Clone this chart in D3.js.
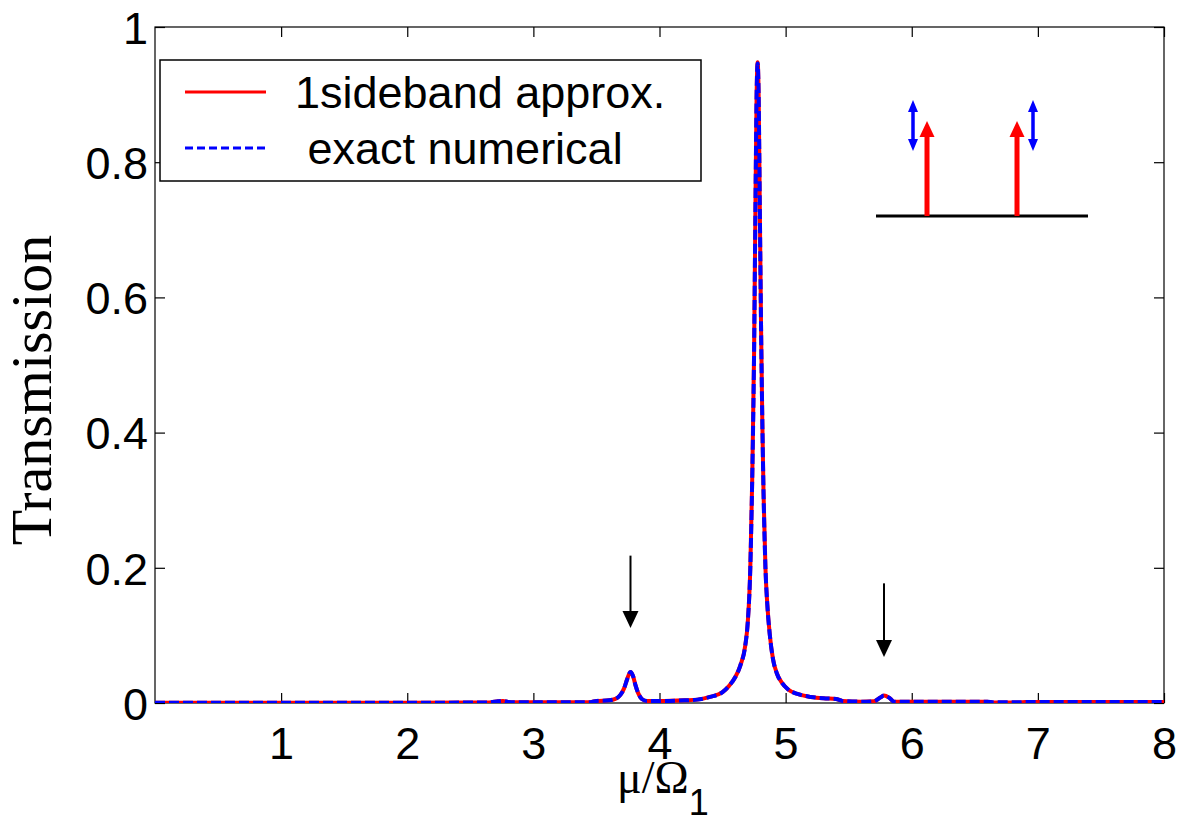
<!DOCTYPE html>
<html>
<head>
<meta charset="utf-8">
<script src="https://d3js.org/d3.v7.min.js"></script>
<style>
body { margin: 0; background: #fff; }
</style>
</head>
<body>
<svg width="1187" height="817"></svg>
<script>
// detuning mu/Omega_1 and transmission
const muValues = [0, 0.5, 1, 1.5, 2, 2.5, 2.65, 2.72, 2.76, 2.8, 2.85, 3.0, 3.3, 3.45, 3.5, 3.6,
  3.65, 3.69, 3.72, 3.745, 3.77, 3.79, 3.81, 3.83, 3.86, 3.9, 4.0, 4.2, 4.3, 4.4, 4.5, 4.55,
  4.6, 4.64, 4.68, 4.7, 4.72, 4.735, 4.75, 4.76, 4.77, 4.778, 4.786, 4.795, 4.805, 4.815,
  4.825, 4.84, 4.855, 4.875, 4.9, 4.93, 4.97, 5.02, 5.1, 5.2, 5.3, 5.4, 5.45, 5.6, 5.7, 5.75, 5.78,
  5.82, 5.86, 6.0, 6.3, 6.6, 6.65, 6.85, 6.9, 7.5, 8];
const sideband = [0.0005, 0.0005, 0.0005, 0.0005, 0.0005, 0.0006, 0.0008, 0.0025, 0.003, 0.0015, 0.001, 0.001, 0.001, 0.0012, 0.003, 0.004,
  0.006, 0.012, 0.022, 0.036, 0.046, 0.040, 0.026, 0.015, 0.006, 0.003, 0.003, 0.004, 0.005, 0.009, 0.016, 0.025,
  0.038, 0.055, 0.085, 0.12, 0.2, 0.33, 0.52, 0.72, 0.9, 0.948, 0.9, 0.74, 0.56, 0.42,
  0.31, 0.2, 0.145, 0.1, 0.065, 0.044, 0.03, 0.02, 0.013, 0.009, 0.007, 0.006, 0.003, 0.002, 0.0025, 0.008, 0.011,
  0.008, 0.002, 0.002, 0.002, 0.002, 0.0006, 0.0006, 0.0015, 0.0015, 0.0015];
const exact = [0.0005, 0.0005, 0.0005, 0.0005, 0.0005, 0.0006, 0.0008, 0.0025, 0.003, 0.0015, 0.001, 0.001, 0.001, 0.0012, 0.003, 0.004,
  0.006, 0.012, 0.022, 0.036, 0.046, 0.040, 0.026, 0.015, 0.006, 0.003, 0.003, 0.004, 0.005, 0.009, 0.016, 0.025,
  0.038, 0.055, 0.085, 0.12, 0.2, 0.33, 0.52, 0.72, 0.9, 0.946, 0.9, 0.74, 0.56, 0.42,
  0.31, 0.2, 0.145, 0.1, 0.065, 0.044, 0.03, 0.02, 0.013, 0.009, 0.007, 0.006, 0.003, 0.002, 0.0025, 0.008, 0.011,
  0.008, 0.002, 0.002, 0.002, 0.002, 0.0010, 0.0010, 0.0015, 0.0015, 0.0015];
const xTicks = [1, 2, 3, 4, 5, 6, 7, 8];
const yTicks = [0, 0.2, 0.4, 0.6, 0.8, 1];
const legendLabels = ["1sideband approx.", " exact numerical"];
const arrowMarks = [{mu: 3.77, from: 0.218, to: 0.111}, {mu: 5.78, from: 0.177, to: 0.068}];

const svg = d3.select("svg");
const padL = 155, padR = 1164, padT = 27, padB = 703;
const x = d3.scaleLinear().domain([0, 8]).range([padL, padR]);
const y = d3.scaleLinear().domain([0, 1]).range([padB, padT]);
const sans = "'Liberation Sans', Arial, sans-serif";
const serif = "'Liberation Serif', 'Times New Roman', serif";

svg.append("defs").append("clipPath").attr("id", "plot")
  .append("rect").attr("x", padL).attr("y", padT).attr("width", padR - padL).attr("height", padB - padT);

// frame
svg.append("rect").attr("x", padL).attr("y", padT).attr("width", padR - padL).attr("height", padB - padT)
  .attr("fill", "none").attr("stroke", "#000").attr("stroke-width", 1.2);

// axes, ticks pointing inward
const tickLen = 10;
const xb = svg.append("g").attr("transform", `translate(0,${padB})`)
  .call(d3.axisBottom(x).tickValues(xTicks).tickSize(-tickLen).tickPadding(24).tickFormat(d3.format("d")));
const xt = svg.append("g").attr("transform", `translate(0,${padT})`)
  .call(d3.axisTop(x).tickValues(xTicks).tickSize(-tickLen).tickFormat(""));
const yl = svg.append("g").attr("transform", `translate(${padL},0)`)
  .call(d3.axisLeft(y).tickValues(yTicks).tickSize(-tickLen).tickPadding(7).tickFormat(d => d === 0 || d === 1 ? d3.format("d")(d) : d3.format(".1f")(d)));
const yr = svg.append("g").attr("transform", `translate(${padR},0)`)
  .call(d3.axisRight(y).tickValues(yTicks).tickSize(-tickLen).tickFormat(""));
[xb, xt, yl, yr].forEach(g => {
  g.select(".domain").remove();
  g.selectAll("line").attr("stroke", "#000").attr("stroke-width", 1.2);
  g.selectAll("text").attr("fill", "#000").style("font-family", sans).style("font-size", "45px");
});
xb.selectAll("text").attr("dy", "0.71em").attr("y", 24);
yl.selectAll("text").attr("dy", "0.36em").attr("x", -7);

// curves
const line = d3.line().x((d, i) => x(muValues[i])).y(d => y(d)).curve(d3.curveMonotoneX);
const curves = svg.append("g").attr("clip-path", "url(#plot)");
curves.append("path").datum(sideband).attr("d", line)
  .attr("fill", "none").attr("stroke", "#ff0000").attr("stroke-width", 4).attr("stroke-linejoin", "round");
curves.append("path").datum(exact).attr("d", line)
  .attr("fill", "none").attr("stroke", "#0000ff").attr("stroke-width", 4)
  .attr("stroke-dasharray", "10,4").attr("stroke-linejoin", "round");

// black arrows marking the side peaks
arrowMarks.forEach(a => {
  const ax = x(a.mu), y0 = y(a.from), y1 = y(a.to);
  svg.append("line").attr("x1", ax).attr("x2", ax).attr("y1", y0).attr("y2", y1 - 16)
    .attr("stroke", "#000").attr("stroke-width", 2);
  svg.append("path").attr("d", `M${ax - 8},${y1 - 17}L${ax + 8},${y1 - 17}L${ax},${y1}Z`).attr("fill", "#000");
});

// inset sketch: ground line, red pump arrows, blue modulation arrows
const inset = svg.append("g");
inset.append("line").attr("x1", 876).attr("x2", 1088).attr("y1", 216).attr("y2", 216)
  .attr("stroke", "#000").attr("stroke-width", 3);
[927, 1017].forEach(cx => {
  inset.append("rect").attr("x", cx - 2.5).attr("y", 134).attr("width", 5).attr("height", 82).attr("fill", "#ff0000");
  inset.append("path").attr("d", `M${cx - 7.5},137L${cx + 7.5},137L${cx},121Z`).attr("fill", "#ff0000");
});
[913, 1033].forEach(cx => {
  inset.append("rect").attr("x", cx - 1.75).attr("y", 108).attr("width", 3.5).attr("height", 36).attr("fill", "#0000ff");
  inset.append("path").attr("d", `M${cx - 5},112L${cx + 5},112L${cx},100Z`).attr("fill", "#0000ff");
  inset.append("path").attr("d", `M${cx - 5},139L${cx + 5},139L${cx},151Z`).attr("fill", "#0000ff");
});

// legend
const lg = svg.append("g");
lg.append("rect").attr("x", 160).attr("y", 60).attr("width", 541).attr("height", 121)
  .attr("fill", "#fff").attr("stroke", "#000").attr("stroke-width", 1.5);
const legendStyles = [{c: "#ff0000", dash: null, ly: 92}, {c: "#0000ff", dash: "8,4", ly: 148}];
legendLabels.forEach((t, i) => {
  const s = legendStyles[i];
  lg.append("line").attr("x1", 185).attr("x2", 266).attr("y1", s.ly).attr("y2", s.ly)
    .attr("stroke", s.c).attr("stroke-width", 3).attr("stroke-dasharray", s.dash);
  lg.append("text").attr("x", 295).attr("y", s.ly).attr("dy", "0.36em")
    .style("font-family", sans).style("font-size", "45px").style("white-space", "pre").text(t);
});

// axis labels
svg.append("text").attr("transform", "translate(51,390) rotate(-90)").attr("text-anchor", "middle")
  .style("font-family", serif).style("font-size", "58px").text("Transmission");
const xl = svg.append("text").attr("x", 617).attr("y", 793);
xl.append("tspan").style("font-family", serif).style("font-size", "46px").text("\u03bc/\u03a9");
xl.append("tspan").style("font-family", sans).style("font-size", "36px").attr("dy", 22).text("1");
</script>
</body>
</html>
